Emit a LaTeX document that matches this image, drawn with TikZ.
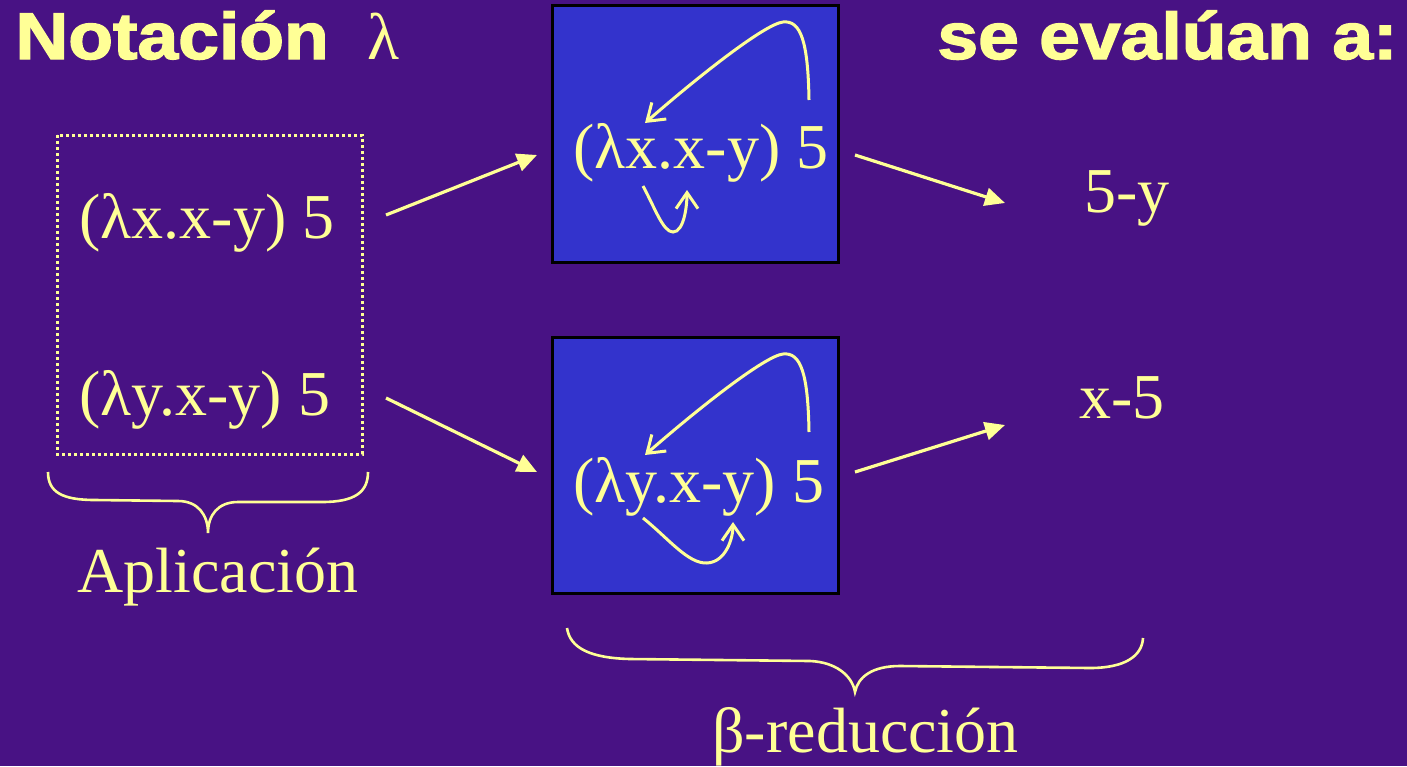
\documentclass[tikz,border=0pt]{standalone}
\usepackage{fontspec}
\setmainfont{Liberation Serif}
\newfontfamily\titlefont[BoldFeatures={FakeBold=2}]{Liberation Sans}
\usetikzlibrary{arrows.meta}
\definecolor{bgpurple}{RGB}{72,18,132}
\definecolor{txtyellow}{RGB}{255,255,150}
\definecolor{boxblue}{RGB}{51,51,204}
\tikzset{
  lbl/.style={inner sep=0pt, anchor=base west, text=txtyellow, font=\fontsize{32pt}{37pt}\selectfont},
  ttl/.style={inner sep=0pt, anchor=base west, text=txtyellow, font=\titlefont\bfseries\fontsize{33pt}{38pt}\selectfont},
  bluebox/.style={draw=black, line width=1.5pt, fill=boxblue},
  bigarrow/.style={draw=txtyellow, line width=1.6pt, -{Triangle[length=10pt,width=9pt]}},
  bendarrow/.style={draw=txtyellow, line width=1.5pt, -{Straight Barb[length=8pt,width=11pt,line width=1.5pt]}},
  bracestyle/.style={draw=txtyellow, line width=1.3pt},
  dotbox/.style={draw=txtyellow, line width=1.5pt, dash pattern=on 1.3pt off 1.7pt}
}
\begin{document}
\begin{tikzpicture}[x=0.5pt,y=-0.5pt]
  \fill[bgpurple] (0,0) rectangle (1407,766);
  \useasboundingbox (0,0) rectangle (1407,766);

  % titles
  \node[ttl] (t1) at (15,59) {\scalebox{1.11}[1]{Notación}};
  \node[lbl, font=\fontsize{33pt}{38pt}\selectfont] (t1l) at (367,59) {λ};
  \node[ttl] (t2) at (937,59) {\scalebox{1.11}[1]{se evalúan a:}};

  % blue boxes
  \draw[bluebox] (552,5) rectangle (838,262);
  \draw[bluebox] (552,337) rectangle (838,593);

  % dotted group
  \draw[dotbox] (57,135) rectangle (362,454);

  % left expressions
  \node[lbl] (l1) at (79,238) {(λx.x-y) 5};
  \node[lbl] (l2) at (79,415) {(λy.x-y) 5};

  % box expressions
  \node[lbl] (m1) at (573,168) {(λx.x-y) 5};
  \node[lbl] (m2) at (573,502) {(λy.x-y) 5};

  % results
  \node[lbl] (r1) at (1084,212) {5-y};
  \node[lbl] (r2) at (1079,418) {x-5};

  % bottom labels
  \node[lbl] (ap) at (77,592) {Aplicación};
  \node[lbl] (br) at (712,752) {β-reducción};

  % straight arrows
  \coordinate (a1s) at (386,215);
  \coordinate (a1e) at (537,155);
  \coordinate (a2s) at (386,398);
  \coordinate (a2e) at (537,472);
  \coordinate (a3s) at (855,155);
  \coordinate (a3e) at (1005,203);
  \coordinate (a4s) at (855,472);
  \coordinate (a4e) at (1005,425);
  \draw[bigarrow] (a1s) -- (a1e);
  \draw[bigarrow] (a2s) -- (a2e);
  \draw[bigarrow] (a3s) -- (a3e);
  \draw[bigarrow] (a4s) -- (a4e);

  % bent arrows in box 1
  \coordinate (c1s) at (809,100);
  \coordinate (c1e) at (645,123);
  \draw[bendarrow] (c1s) .. controls (808,42) and (801,20) .. (783,22)
                        .. controls (765,24) and (700,75) .. (c1e);
  \coordinate (d1s) at (643,186);
  \coordinate (d1e) at (687,190);
  \draw[bendarrow] (d1s) .. controls (655,208) and (663,232) .. (673,232)
                        .. controls (684,232) and (687,206) .. (d1e);

  % bent arrows in box 2
  \coordinate (c2s) at (809,432);
  \coordinate (c2e) at (645,455);
  \draw[bendarrow] (c2s) .. controls (808,374) and (801,352) .. (783,354)
                        .. controls (765,356) and (700,407) .. (c2e);
  \coordinate (d2s) at (643,518);
  \coordinate (d2e) at (733,522);
  \draw[bendarrow] (d2s) .. controls (668,538) and (688,564) .. (707,563)
                        .. controls (726,562) and (733,538) .. (d2e);

  % braces
  \coordinate (bl1) at (48,472);
  \coordinate (bl2) at (368,472);
  \coordinate (blt) at (208,533);
  \draw[bracestyle] (bl1) .. controls (48,492) and (62,500) .. (95,500)
     -- (178,501) .. controls (198,501) and (208,515) .. (blt)
     .. controls (208,515) and (218,502) .. (238,502)
     -- (322,502) .. controls (355,502) and (368,492) .. (bl2);

  \coordinate (br1) at (567,628);
  \coordinate (br2) at (1143,638);
  \coordinate (brt) at (855,692);
  \draw[bracestyle] (br1) .. controls (570,648) and (590,658) .. (630,659)
     -- (810,661) .. controls (835,662) and (852,675) .. (brt)
     .. controls (858,677) and (872,666) .. (900,666)
     -- (1090,668) .. controls (1125,668) and (1142,656) .. (br2);
\end{tikzpicture}
\end{document}
